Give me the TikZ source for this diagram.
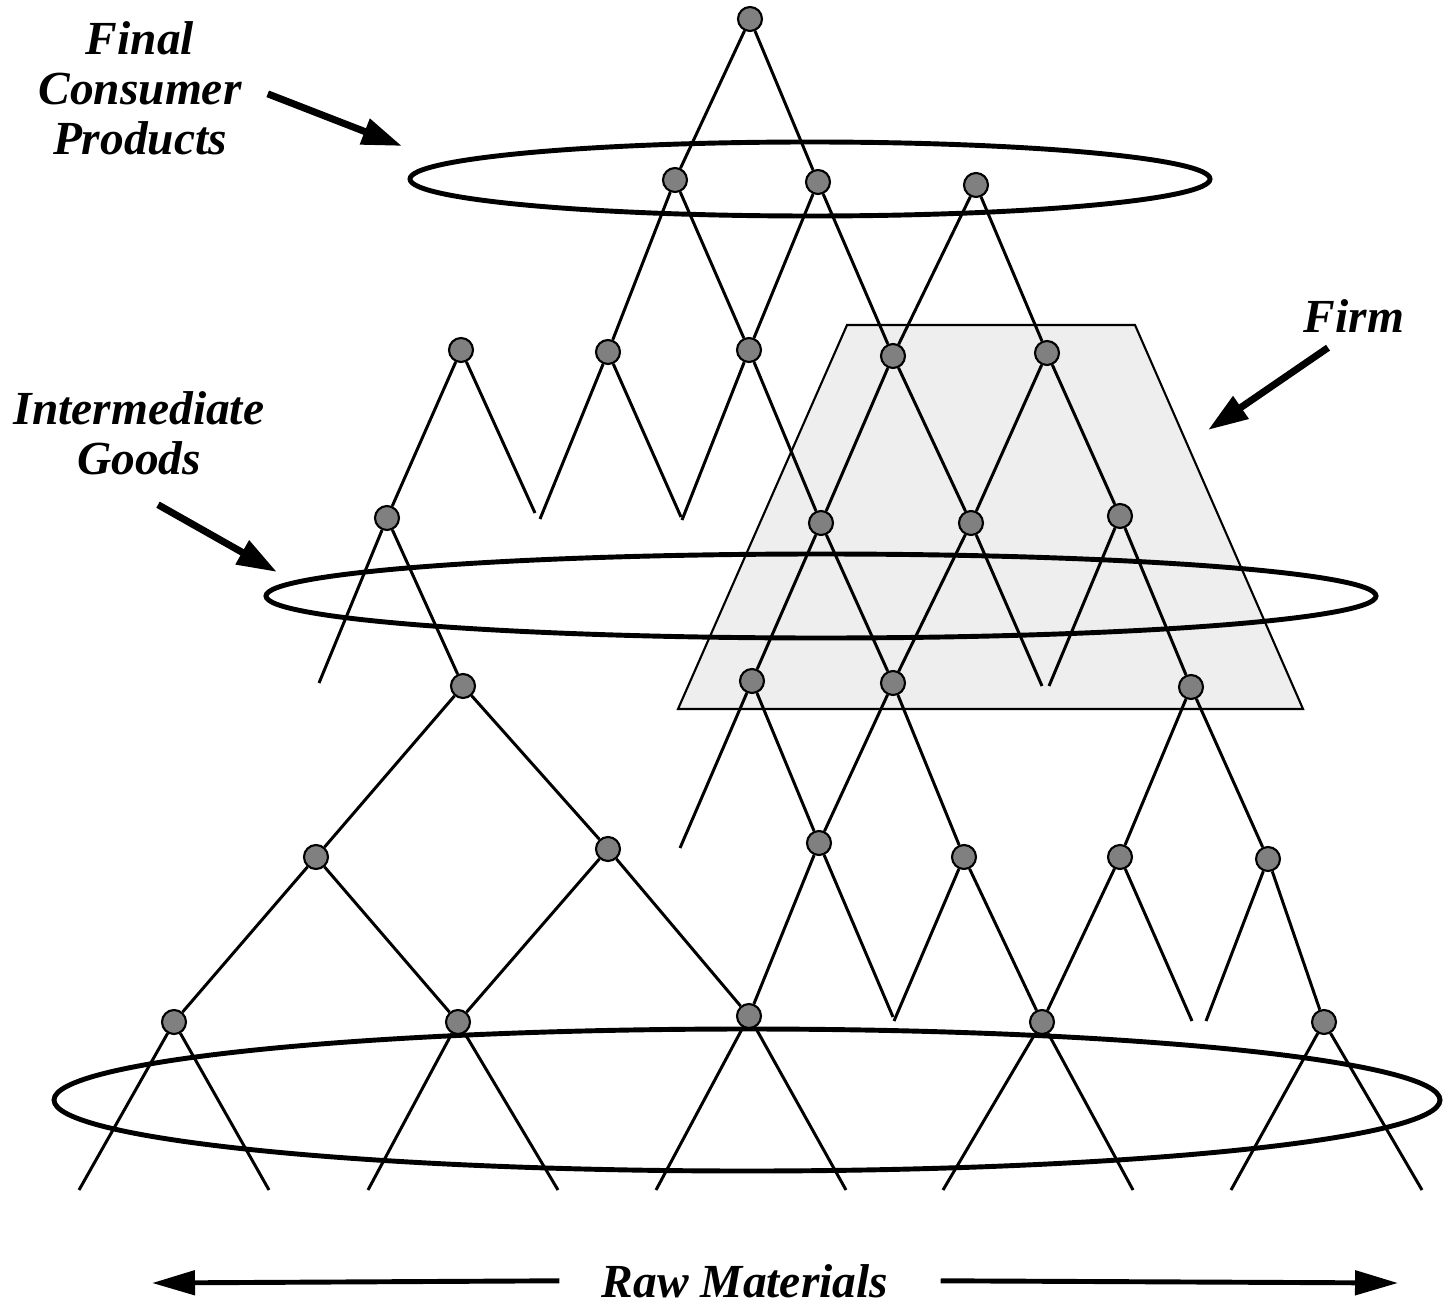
\documentclass[tikz,border=0pt]{standalone}
\usepackage{fontspec}
\setmainfont{Liberation Serif}
\usetikzlibrary{arrows.meta}
\definecolor{goodfill}{RGB}{128,128,128}
\definecolor{firmfill}{RGB}{238,238,238}
\tikzset{
  good/.style={circle, draw, fill=goodfill, line width=0.6pt, minimum size=2.4mm, inner sep=0pt},
  link/.style={line width=0.85pt},
  ring/.style={line width=1.4pt},
  tag/.style={font=\bfseries\itshape\fontsize{13.5}{14.2}\selectfont, inner sep=0pt},
  callout/.style={line width=2pt, -{Triangle[length=4mm,width=2.6mm]}},
  rawarrow/.style={line width=1.4pt, -{Triangle[length=4.3mm,width=2.4mm]}}
}
\begin{document}
\begin{tikzpicture}[x=0.1mm, y=-0.1mm]
    \useasboundingbox (0,0) rectangle (1454,1304);
    % the firm
    \draw[fill=firmfill, line width=0.6pt] (847,325) -- (1135,325) -- (1303,709) -- (678,709) -- cycle;
    % levels
    \draw[ring] (810,179) ellipse [x radius=400, y radius=37];
    \draw[ring] (821,596) ellipse [x radius=555, y radius=42];
    \draw[ring] (747,1100) ellipse [x radius=693, y radius=71];
    % goods
    \foreach \n/\x/\y in {A/750/19,
        B1/675/180, B2/818/182, B3/976/185,
        C1/461/350, C2/608/352, C3/749/350, C4/893/356, C5/1047/353,
        D1/387/518, D2/821/523, D3/971/523, D4/1120/516,
        E1/463/686, E2/752/681, E3/893/683, E4/1191/687,
        F1/316/857, F2/608/849, F3/819/843, F4/964/857, F5/1120/857, F6/1268/859,
        G1/174/1022, G2/458/1022, G3/749/1016, G4/1042/1022, G5/1324/1022}
      \node[good] (\n) at (\x,\y) {};
    % loose ends
    \foreach \n/\x/\y in {c1r/535/513, c2l/540/519, c2r/681/517, c3l/682/520,
        d1l/319/683, d3r/1042/686, d4l/1049/686,
        e2l/680/848, f3r/893/1017, f4l/894/1021, f5r/1192/1021, f6l/1206/1021,
        g1l/79/1190, g1r/269/1190, g2l/368/1190, g2r/558/1190, g3l/656/1190,
        g3r/846/1190, g4l/943/1190, g4r/1133/1190, g5l/1231/1190, g5r/1422/1190}
      \coordinate (\n) at (\x,\y);
    % inputs
    \foreach \a/\b in {A/B1, A/B2, B1/C2, B1/C3, B2/C3, B2/C4, B3/C4, B3/C5,
        C1/D1, C1/c1r, C2/c2l, C2/c2r, C3/c3l, C3/D2, C4/D2, C4/D3, C5/D3, C5/D4,
        D1/d1l, D1/E1, D2/E2, D2/E3, D3/E3, D3/d3r, D4/d4l, D4/E4,
        E1/F1, E1/F2, E2/e2l, E2/F3, E3/F3, E3/F4, E4/F5, E4/F6,
        F1/G1, F1/G2, F2/G2, F2/G3, F3/G3, F3/f3r, F4/f4l, F4/G4, F5/G4, F5/f5r,
        F6/f6l, F6/G5,
        G1/g1l, G1/g1r, G2/g2l, G2/g2r, G3/g3l, G3/g3r, G4/g4l, G4/g4r, G5/g5l, G5/g5r}
      \draw[link] (\a) -- (\b);
    % labels
    \node[tag, align=center, anchor=north] (fcp) at (140,21) {Final\\Consumer\\Products};
    \node[tag, align=center, anchor=north] (igl) at (139,391) {Intermediate\\Goods};
    \node[tag, anchor=base] (firm) at (1354,333) {Firm};
    \node[tag, anchor=base] (raw) at (745,1297) {Raw Materials};
    \coordinate (fcpTip) at (402,146);
    \coordinate (igTip) at (277,572);
    \coordinate (firmTip) at (1208,430);
    \coordinate (rawL) at (152,1283);
    \coordinate (rawR) at (1398,1283);
    \draw[callout] ([xshift=2.55mm,yshift=-0.55mm]fcp.east) -- (fcpTip);
    \draw[callout] ([xshift=1.9mm,yshift=-2.9mm]igl.south) -- (igTip);
    \draw[callout] ([xshift=-2.6mm,yshift=-1.4mm]firm.south) -- (firmTip);
    \draw[rawarrow] ([xshift=-4.2mm]raw.west) -- (rawL);
    \draw[rawarrow] ([xshift=5.2mm]raw.east) -- (rawR);
\end{tikzpicture}
\end{document}
